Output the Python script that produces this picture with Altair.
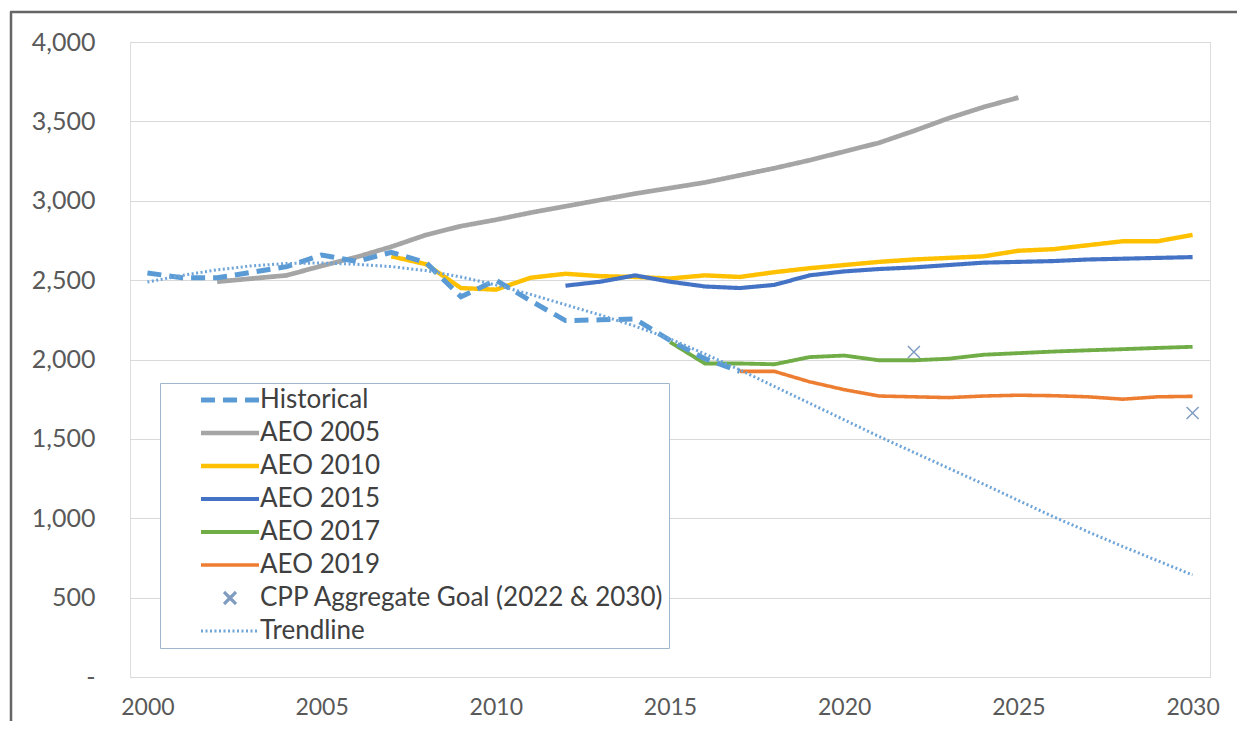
import altair as alt
import pandas as pd

# ---------------- data ----------------
names = ["Historical", "AEO 2005", "AEO 2010", "AEO 2015", "AEO 2017", "AEO 2019",
         "CPP Aggregate Goal (2022 & 2030)", "Trendline"]

hist_years = list(range(2000, 2018))
hist_vals = [2545, 2515, 2515, 2550, 2585, 2658, 2618, 2675, 2610, 2395, 2500, 2370,
             2245, 2250, 2255, 2120, 2005, 1925]

aeo2005_years = list(range(2002, 2026))
aeo2005_vals = [2490, 2510, 2530, 2590, 2645, 2710, 2785, 2840, 2880, 2925, 2965, 3005,
                3045, 3080, 3115, 3160, 3205, 3255, 3310, 3365, 3440, 3520, 3590, 3650]

aeo2010_years = list(range(2007, 2031))
aeo2010_vals = [2650, 2600, 2450, 2440, 2515, 2540, 2525, 2520, 2510, 2530, 2520, 2550,
                2575, 2595, 2615, 2630, 2640, 2650, 2685, 2695, 2720, 2745, 2745, 2785]

aeo2015_years = list(range(2012, 2031))
aeo2015_vals = [2465, 2490, 2530, 2490, 2460, 2450, 2470, 2530, 2555, 2570, 2580, 2595,
                2610, 2615, 2620, 2630, 2635, 2640, 2645]

aeo2017_years = list(range(2015, 2031))
aeo2017_vals = [2110, 1975, 1975, 1970, 2015, 2025, 1995, 1995, 2005, 2030, 2040, 2050,
                2058, 2065, 2073, 2080]

aeo2019_years = list(range(2017, 2031))
aeo2019_vals = [1925, 1925, 1860, 1810, 1770, 1765, 1760, 1770, 1775, 1772, 1765, 1750,
                1765, 1768]

trend_years = list(range(2000, 2031))
trend_vals = [2488, 2530, 2565, 2590, 2605, 2608, 2600, 2585, 2560, 2520, 2470, 2410,
              2345, 2280, 2210, 2130, 2035, 1935, 1830, 1725, 1620, 1515, 1415, 1315,
              1215, 1112, 1010, 915, 822, 732, 643]

cpp_years = [2022, 2030]
cpp_vals = [2047, 1663]

x_ticks = [2000, 2005, 2010, 2015, 2020, 2025, 2030]
y_ticks = [0, 500, 1000, 1500, 2000, 2500, 3000, 3500, 4000]

# ---------------- styling ----------------
colors = ["#5b9bd5", "#a5a5a5", "#ffc000", "#4472c4", "#70ad47", "#ed7d31", "#7f9cc0", "#6fa5d8"]
dashes = [[14, 8], [1, 0], [1, 0], [1, 0], [1, 0], [1, 0], [1, 0], [2, 2.5]]
widths = [5, 3, 3, 3, 3, 3, 1.5, 1.4]
line_path = "M-2.9,0L2.9,0"
x_path = "M-0.6,-0.6L0.6,0.6M-0.6,0.6L0.6,-0.6"
shapes = [line_path] * 6 + [x_path, line_path]
SYM = 400

FONT = "Lato"

def series_df(name, ys, vs):
    return pd.DataFrame({"year": ys, "value": vs, "series": name})

aeo_df = pd.concat([
    series_df("AEO 2005", aeo2005_years, aeo2005_vals),
    series_df("AEO 2010", aeo2010_years, aeo2010_vals),
    series_df("AEO 2015", aeo2015_years, aeo2015_vals),
    series_df("AEO 2017", aeo2017_years, aeo2017_vals),
    series_df("AEO 2019", aeo2019_years, aeo2019_vals),
])
hist_df = series_df("Historical", hist_years, hist_vals)
trend_df = series_df("Trendline", trend_years, trend_vals)
cpp_df = series_df("CPP Aggregate Goal (2022 & 2030)", cpp_years, cpp_vals)

legend = alt.Legend(
    title=None, orient="none", legendX=30, legendY=341, direction="vertical",
    labelFont=FONT, labelFontSize=26, labelColor="#404040", labelLimit=600,
    symbolSize=SYM, labelOffset=17, rowPadding=7, padding=4, symbolOffset=53,
    strokeColor="#9fb6cd", fillColor="white",
)

x_enc = alt.X("year:Q", scale=alt.Scale(domain=[1999.5, 2030.5], nice=False, zero=False),
              axis=alt.Axis(values=x_ticks, format="d", grid=False, domain=False, ticks=False,
                            labelFont=FONT, labelFontSize=23, labelColor="#595959",
                            labelPadding=19, title=None))
y_enc = alt.Y("value:Q", scale=alt.Scale(domain=[0, 4000], nice=False),
              axis=alt.Axis(values=y_ticks, grid=True, gridColor="#d9d9d9", domain=False,
                            ticks=False, labelFont=FONT, labelFontSize=25, labelColor="#595959",
                            labelPadding=35, title=None,
                            labelExpr="datum.value == 0 ? '-\u2002\u2002' : format(datum.value, ',')"))

color_enc = alt.Color("series:N", scale=alt.Scale(domain=names, range=colors), legend=legend)
dash_enc = alt.StrokeDash("series:N", scale=alt.Scale(domain=names, range=dashes), legend=legend)
width_enc = alt.StrokeWidth("series:N", scale=alt.Scale(domain=names, range=widths), legend=legend)
shape_enc = alt.Shape("series:N", scale=alt.Scale(domain=names, range=shapes), legend=legend)

def lines(df):
    return alt.Chart(df).mark_line().encode(
        x=x_enc, y=y_enc, color=color_enc, strokeDash=dash_enc, strokeWidth=width_enc,
        detail="series:N")

aeo_layer = lines(aeo_df)
hist_layer = lines(hist_df)
trend_layer = lines(trend_df)
cpp_layer = alt.Chart(cpp_df).mark_point(filled=False, size=SYM, strokeWidth=1.5, opacity=1).encode(
    x=x_enc, y=y_enc, color=color_enc, shape=shape_enc)

frame_df = pd.DataFrame({"k": [0]})
frame_left = alt.Chart(frame_df).mark_rule(color="#666666", strokeWidth=2.5).encode(
    x=alt.value(-119), y=alt.value(-30), y2=alt.value(700))
frame_top = alt.Chart(frame_df).mark_rule(color="#666666", strokeWidth=2.5).encode(
    x=alt.value(-120), x2=alt.value(1130), y=alt.value(-30))

chart = alt.layer(aeo_layer, hist_layer, trend_layer, cpp_layer, frame_left, frame_top).properties(
    width=1080, height=635,
    autosize=alt.AutoSizeParams(type="none"),
    padding={"left": 122, "top": 34, "right": 27, "bottom": 44},
).configure_view(stroke=None).configure(background="white")

chart.save("out.html", embed_options={"renderer": "svg", "actions": False})
